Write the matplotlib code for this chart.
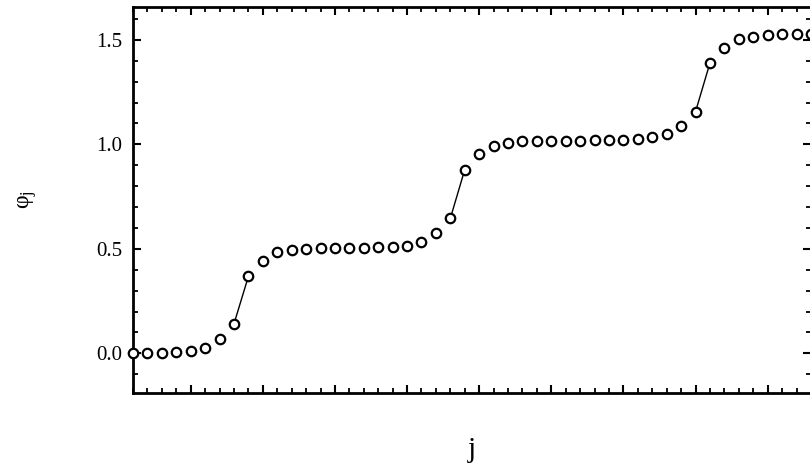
import matplotlib
matplotlib.use("Agg")
import matplotlib.pyplot as plt
from matplotlib.ticker import MultipleLocator, FormatStrFormatter

# Data
j_values = list(range(1, 49))
phi_values = [
    0.000, 0.002, 0.003, 0.006, 0.012, 0.027, 0.067, 0.141, 0.368, 0.442,
    0.484, 0.493, 0.500, 0.503, 0.505, 0.505, 0.505, 0.508, 0.511, 0.514,
    0.532, 0.574, 0.646, 0.879, 0.956, 0.991, 1.008, 1.017, 1.017, 1.017,
    1.017, 1.017, 1.020, 1.020, 1.022, 1.027, 1.033, 1.048, 1.088, 1.157,
    1.390, 1.462, 1.502, 1.513, 1.523, 1.526, 1.528, 1.528,
]
jump_starts = [7, 22, 39]  # indices where a connecting line is drawn
y_tick_values = [0.0, 0.5, 1.0, 1.5]

plt.rcParams['font.family'] = ['Liberation Serif', 'DejaVu Serif']
plt.rcParams['mathtext.fontset'] = 'custom'
plt.rcParams['mathtext.rm'] = 'Liberation Serif'
plt.rcParams['mathtext.it'] = 'Liberation Serif:italic'

fig = plt.figure(figsize=(8.1, 4.75), dpi=100)
ax = fig.add_axes([0.1642, 0.1726, 0.837, 0.8126])

for s in jump_starts:
    ax.plot(j_values[s:s + 2], phi_values[s:s + 2], color='black', lw=1.0, zorder=2)

ax.plot(j_values, phi_values, linestyle='none', marker='o', markersize=6.8,
        markerfacecolor='white', markeredgecolor='black', markeredgewidth=1.6,
        clip_on=False, zorder=4)

ax.set_xlim(j_values[0], j_values[-1])
ax.set_ylim(-0.19, 1.657)

ax.xaxis.set_major_locator(MultipleLocator(5))
ax.xaxis.set_minor_locator(MultipleLocator(1))
ax.set_yticks(y_tick_values)
ax.yaxis.set_minor_locator(MultipleLocator(0.1))
ax.yaxis.set_major_formatter(FormatStrFormatter('%.1f'))

ax.tick_params(which='both', direction='in', top=True, right=True)
ax.tick_params(which='major', length=6, width=1.5, labelsize=15, pad=8)
ax.tick_params(which='minor', length=3.5, width=1.3)
ax.tick_params(axis='x', which='both', labelbottom=False)

for sp in ax.spines.values():
    sp.set_linewidth(2.0)

ax.set_ylabel(r'φ$_{\mathrm{j}}$', fontsize=17)
ax.yaxis.set_label_coords(-0.138, 0.5)
ax.set_xlabel('j', fontsize=21)
ax.xaxis.set_label_coords(0.5, -0.115)

fig.savefig('out.png', dpi=100)
